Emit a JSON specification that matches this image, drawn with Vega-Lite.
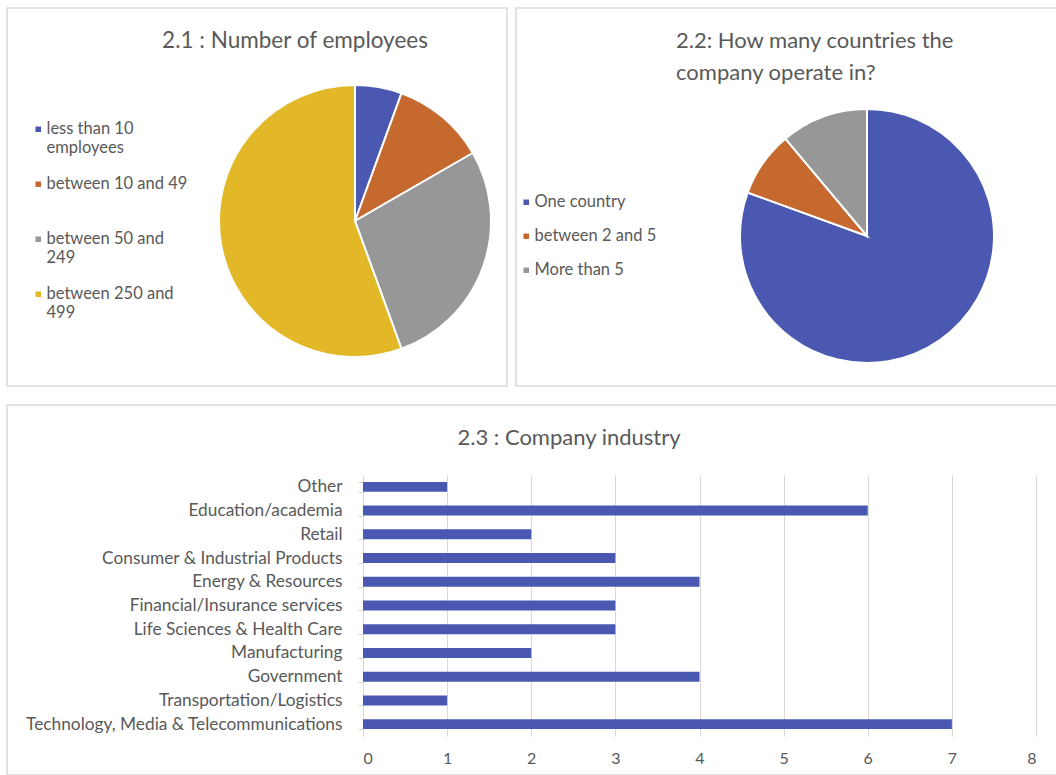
{
  "$schema": "https://vega.github.io/schema/vega-lite/v6.json",
  "background": "white",
  "padding": {"left": 6, "top": 7, "right": 0, "bottom": 0},
  "config": {
    "font": "Lato",
    "view": {"stroke": "#d9d9d9", "strokeWidth": 1.5},
    "title": {"color": "#595959", "fontWeight": "normal", "font": "Lato"},
    "legend": {"labelColor": "#595959", "labelFont": "Lato"},
    "axis": {"labelColor": "#595959", "labelFont": "Lato"}
  },
  "spacing": 8,
  "vconcat": [
    {
      "spacing": 7,
      "resolve": {"scale": {"color": "independent"}, "legend": {"color": "independent"}},
      "hconcat": [
        {
          "width": 500,
          "height": 378,
          "view": {"stroke": "#d9d9d9", "strokeWidth": 1.5},
          "title": {"text": "2.1 : Number of employees", "fontSize": 22.5, "anchor": "middle", "frame": "group", "dx": 38, "baseline": "alphabetic", "offset": -62},
          "data": {"values": [
            {"size": "less than 10 employees", "count": 2},
            {"size": "between 10 and 49", "count": 4},
            {"size": "between 50 and 249", "count": 10},
            {"size": "between 250 and 499", "count": 20}
          ]},
          "transform": [{"window": [{"op": "row_number", "as": "idx"}]}],
          "mark": {"type": "arc", "outerRadius": 136, "stroke": "white", "strokeWidth": 2, "x": 348, "y": 213},
          "encoding": {
            "theta": {"field": "count", "type": "quantitative", "stack": true},
            "order": {"field": "idx", "type": "quantitative"},
            "color": {
              "field": "size", "type": "nominal",
              "scale": {"domain": ["less than 10 employees", "between 10 and 49", "between 50 and 249", "between 250 and 499"], "range": ["#4a58b2", "#c6692e", "#979797", "#e2b828"]},
              "legend": {
                "title": null, "orient": "none", "legendX": 23, "legendY": 113,
                "symbolType": "square", "symbolSize": 50, "labelFontSize": 16.5, "labelOffset": 0,
                "rowPadding": 19, "labelLimit": 300,
                "labelExpr": "datum.label == 'less than 10 employees' ? ['less than 10', 'employees'] : datum.label == 'between 50 and 249' ? ['between 50 and', '249'] : datum.label == 'between 250 and 499' ? ['between 250 and', '499'] : [datum.label, ' ']"
              }
            }
          }
        },
        {
          "width": 543,
          "height": 378,
          "view": {"stroke": "#d9d9d9", "strokeWidth": 1.5},
          "title": {"text": ["2.2: How many countries the", "company operate in?"], "fontSize": 22, "anchor": "start", "frame": "group", "dx": 160, "baseline": "alphabetic", "offset": -94, "lineHeight": 32},
          "data": {"values": [
            {"countries": "One country", "count": 29},
            {"countries": "between 2 and 5", "count": 3},
            {"countries": "More than 5", "count": 4}
          ]},
          "transform": [{"window": [{"op": "row_number", "as": "idx"}]}],
          "mark": {"type": "arc", "outerRadius": 127, "stroke": "white", "strokeWidth": 2, "x": 351, "y": 228},
          "encoding": {
            "theta": {"field": "count", "type": "quantitative", "stack": true},
            "order": {"field": "idx", "type": "quantitative"},
            "color": {
              "field": "countries", "type": "nominal",
              "scale": {"domain": ["One country", "between 2 and 5", "More than 5"], "range": ["#4a58b2", "#c6692e", "#979797"]},
              "legend": {
                "title": null, "orient": "none", "legendX": 2, "legendY": 186,
                "symbolType": "square", "symbolSize": 50, "labelFontSize": 16.5, "labelOffset": 0,
                "rowPadding": 17, "labelLimit": 300
              }
            }
          }
        }
      ]
    },
    {
      "width": 1050,
      "height": 370,
      "title": {"text": "2.3 : Company industry", "fontSize": 22, "anchor": "middle", "frame": "group", "dx": 37, "baseline": "alphabetic", "offset": -71},
      "data": {"values": [
        {"industry": "Other", "count": 1},
        {"industry": "Education/academia", "count": 6},
        {"industry": "Retail", "count": 2},
        {"industry": "Consumer & Industrial Products", "count": 3},
        {"industry": "Energy & Resources", "count": 4},
        {"industry": "Financial/Insurance services", "count": 3},
        {"industry": "Life Sciences & Health Care", "count": 3},
        {"industry": "Manufacturing", "count": 2},
        {"industry": "Government", "count": 4},
        {"industry": "Transportation/Logistics", "count": 1},
        {"industry": "Technology, Media & Telecommunications", "count": 7}
      ]},
      "mark": {"type": "bar", "color": "#4a58b2"},
      "encoding": {
        "y": {
          "field": "industry", "type": "nominal", "sort": null,
          "scale": {"range": [70, 331], "paddingInner": 0.58, "paddingOuter": 0.29},
          "axis": {"title": null, "orient": "left", "offset": -356, "domainColor": "#d9d9d9", "tickColor": "#d9d9d9", "tickSize": 5, "tickBand": "extent", "labelPadding": 16, "labelFontSize": 17.3, "labelLimit": 400, "grid": false}
        },
        "x": {
          "field": "count", "type": "quantitative",
          "scale": {"domain": [0, 8], "range": [356, 1029], "nice": false},
          "axis": {"title": null, "orient": "top", "offset": -331, "domain": false, "ticks": false, "tickCount": 8, "grid": true, "gridColor": "#d9d9d9", "labelPadding": -22, "labelBaseline": "middle", "labelFontSize": 16}
        }
      }
    }
  ]
}
